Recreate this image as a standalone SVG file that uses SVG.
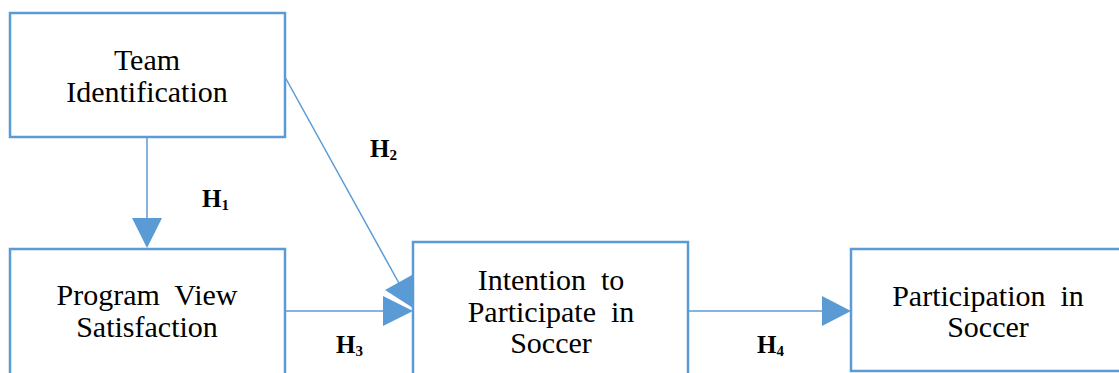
<svg xmlns="http://www.w3.org/2000/svg" width="1119" height="373" viewBox="0 0 1119 373">
<defs>
<style>
.box{fill:#fff;stroke:#5B9BD5;stroke-width:2.5}
.t{font-family:"Liberation Serif","Times New Roman",serif;font-size:30px;fill:#000;text-anchor:middle}
.c{stroke:#5B9BD5;stroke-width:1.5;fill:none}
.ah{fill:#5B9BD5}
.h{font-family:"Liberation Serif","Times New Roman",serif;font-size:25px;font-weight:bold;fill:#000}
.s{font-size:15px}
</style>
</defs>
<rect width="1119" height="373" fill="#fff"/>
<g id="connectors">
<line class="c" x1="147" y1="137" x2="147" y2="220"/>
<polygon class="ah" points="132,218 162,218 147,248"/>
<line class="c" x1="285" y1="77" x2="400" y2="285"/>
<line class="c" x1="285" y1="311" x2="385" y2="311"/>
<polygon class="ah" points="383,296 383,326 413,311"/>
<line class="c" x1="688" y1="311" x2="824" y2="311"/>
<polygon class="ah" points="822,296 822,326 851,311"/>
<text class="h" x="202" y="207">H<tspan class="s" dy="3">1</tspan></text>
<text class="h" x="370" y="157">H<tspan class="s" dy="3">2</tspan></text>
<text class="h" x="336" y="353">H<tspan class="s" dy="3">3</tspan></text>
<text class="h" x="757" y="353">H<tspan class="s" dy="3">4</tspan></text>
</g>
<g id="team">
<rect class="box" x="10" y="13" width="275" height="124"/>
<text class="t" x="147" y="70">Team</text>
<text class="t" x="147" y="102">Identification</text>
</g>
<g id="program">
<rect class="box" x="10" y="249" width="275" height="140"/>
<text class="t" x="147" y="305" xml:space="preserve">Program  View</text>
<text class="t" x="147" y="337">Satisfaction</text>
</g>
<g id="intention">
<polygon class="ah" points="385,290 412,275 413,308"/>
<rect class="box" x="413" y="242" width="275" height="150"/>
<text class="t" x="551" y="290" xml:space="preserve">Intention  to</text>
<text class="t" x="551" y="322" xml:space="preserve">Participate  in</text>
<text class="t" x="551" y="353">Soccer</text>
</g>
<g id="participation">
<rect class="box" x="851" y="249" width="280" height="122"/>
<text class="t" x="988" y="306" xml:space="preserve">Participation  in</text>
<text class="t" x="988" y="337">Soccer</text>
</g>
</svg>
